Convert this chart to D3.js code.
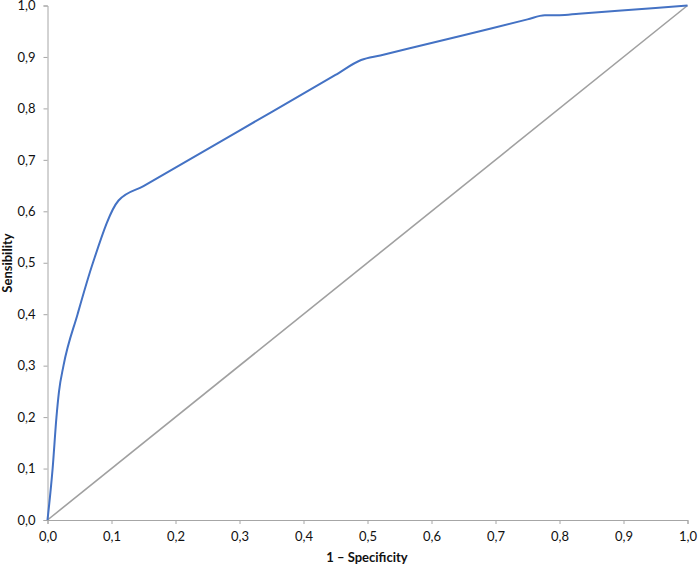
<!DOCTYPE html>
<html><head><meta charset="utf-8">
<script src="https://cdn.jsdelivr.net/npm/d3@7"></script>
<style>body{margin:0;background:#fff;} text{font-family:Lato,"Open Sans",sans-serif;}</style>
</head><body>
<svg id="c" width="700" height="568"></svg>
<script>
const fpr = [0, 0.008, 0.014, 0.018, 0.025, 0.047, 0.071, 0.111, 0.15, 0.30, 0.45, 0.49, 0.52, 0.65, 0.75, 0.777, 0.80, 0.83, 0.95, 1.0];
const tpr = [0, 0.10, 0.20, 0.25, 0.30, 0.40, 0.50, 0.621, 0.649, 0.757, 0.865, 0.894, 0.903, 0.942, 0.973, 0.981, 0.981, 0.984, 0.995, 1.0];
const refX = [0, 1];
const refY = [0, 1];
const ticks = [0,0.1,0.2,0.3,0.4,0.5,0.6,0.7,0.8,0.9,1.0];
const xTitle = "1 – Specificity";
const yTitle = "Sensibility";

const svg = d3.select("#c");
const x = d3.scaleLinear().domain([0,1]).range([47.5, 687.5]);
const y = d3.scaleLinear().domain([0,1]).range([520, 5.5]);
const fmt = d => d3.format(".1f")(d).replace(".", ",");
const axisColor = "#a6a6a6";

const gx = svg.append("g").attr("transform", `translate(0,${y(0)})`)
  .call(d3.axisBottom(x).tickValues(ticks).tickFormat(fmt).tickSize(4).tickPadding(8));
const gy = svg.append("g").attr("transform", `translate(${x(0)},0)`)
  .call(d3.axisLeft(y).tickValues(ticks).tickFormat(fmt).tickSize(4).tickPadding(8));
[gx, gy].forEach(g => {
  g.select(".domain").attr("stroke", axisColor).attr("stroke-width", 1);
  g.selectAll(".tick line").attr("stroke", axisColor);
  g.selectAll(".tick text").attr("fill", "#111").style("font-size", "13px");
});

svg.append("path").datum(refX.map((d,i)=>[d, refY[i]]))
  .attr("d", d3.line().x(d=>x(d[0])).y(d=>y(d[1])))
  .attr("fill","none").attr("stroke","#a0a0a0").attr("stroke-width",1.6);

svg.append("path").datum(fpr.map((d,i)=>[d, tpr[i]]))
  .attr("d", d3.line().x(d=>x(d[0])).y(d=>y(d[1])).curve(d3.curveMonotoneX))
  .attr("fill","none").attr("stroke","#4472c4").attr("stroke-width",2);

svg.append("text").attr("x", 367).attr("y", 562).attr("text-anchor","middle")
  .style("font-size","13px").style("font-weight","bold").attr("fill","#111").text(xTitle);
svg.append("text").attr("transform","translate(12,263) rotate(-90)").attr("text-anchor","middle")
  .style("font-size","13px").style("font-weight","bold").attr("fill","#111").text(yTitle);
</script>
</body></html>
